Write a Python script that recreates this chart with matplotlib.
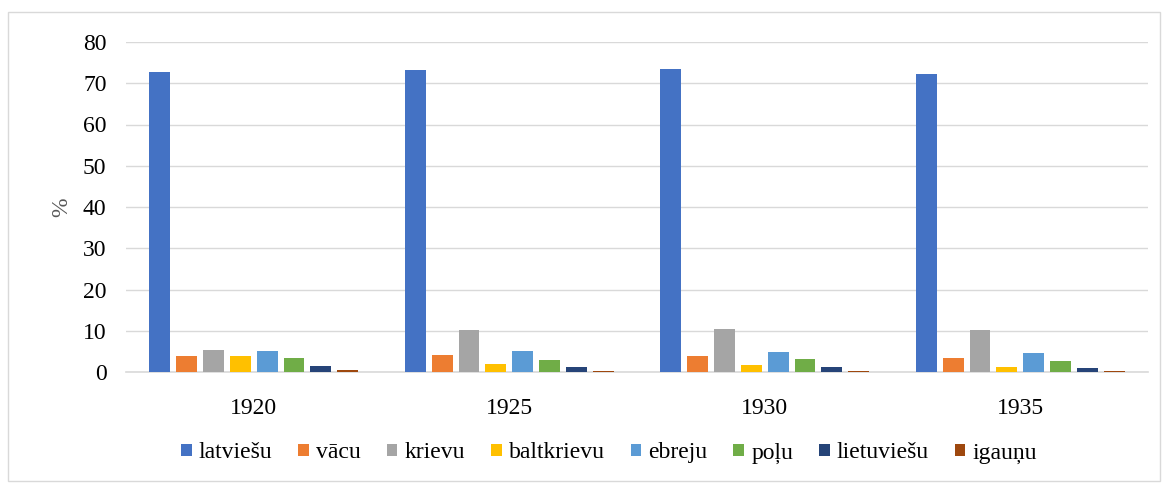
#!/usr/bin/env python3
"""Ethnic composition bar chart, 1920-1935."""

import matplotlib
matplotlib.use("Agg")
import matplotlib.pyplot as plt
import numpy as np
from matplotlib.patches import Rectangle

years = ["1920", "1925", "1930", "1935"]
groups = ["latviešu", "vācu", "krievu", "baltkrievu", "ebreju", "poļu", "lietuviešu", "igauņu"]
latviesu = [72.8, 73.3, 73.4, 72.2]
vacu = [3.8, 4.2, 3.9, 3.4]
krievu = [5.4, 10.3, 10.5, 10.3]
baltkrievu = [3.8, 2.0, 1.7, 1.2]
ebreju = [5.1, 5.1, 4.8, 4.7]
polu = [3.3, 2.8, 3.2, 2.7]
lietuviesu = [1.5, 1.2, 1.2, 1.0]
igaunu = [0.6, 0.3, 0.3, 0.3]
series = [latviesu, vacu, krievu, baltkrievu, ebreju, polu, lietuviesu, igaunu]
colors = ["#4472c4", "#ed7d31", "#a5a5a5", "#ffc000", "#5b9bd5", "#70ad47", "#264478", "#9e480e"]

plt.rcParams["font.family"] = ["Liberation Serif", "DejaVu Serif"]

fig = plt.figure(figsize=(11.65, 4.83), dpi=100)
fig.patches.append(Rectangle((8 / 1165, 2 / 483), 1152 / 1165, 469 / 483,
                             transform=fig.transFigure, fill=False,
                             edgecolor="#d9d9d9", linewidth=1))
ax = fig.add_axes([126 / 1165, 1 - 372 / 483, 1022 / 1165, 330 / 483])

x = np.arange(len(years))
step = 0.105
width = 0.082
for i, (name, vals, c) in enumerate(zip(groups, series, colors)):
    offs = (i - (len(groups) - 1) / 2) * step
    ax.bar(x + offs, vals, width=width, color=c, label=name, zorder=3)

ax.set_xlim(-0.5, len(years) - 0.5)
ax.set_ylim(0, 80)
ax.set_yticks(np.arange(0, 81, 10))
ax.set_xticks(x)
ax.set_xticklabels(years)
ax.grid(axis="y", color="#d9d9d9", linewidth=1, zorder=0)
for s in ["top", "right", "left"]:
    ax.spines[s].set_visible(False)
ax.spines["bottom"].set_color("#d9d9d9")
ax.spines["bottom"].set_linewidth(1.2)
ax.tick_params(axis="both", length=0, labelsize=17)
ax.tick_params(axis="y", pad=14)
ax.tick_params(axis="x", pad=19)
ax.set_ylabel("%", fontsize=17, color="#595959", labelpad=8)

fig.legend(loc="center", bbox_to_anchor=(609 / 1165, 1 - 453 / 483), ncol=8,
           frameon=False, fontsize=17, handlelength=0.45, handleheight=0.45,
           handletextpad=0.3, columnspacing=1.1)

fig.savefig("out.png", dpi=100)
